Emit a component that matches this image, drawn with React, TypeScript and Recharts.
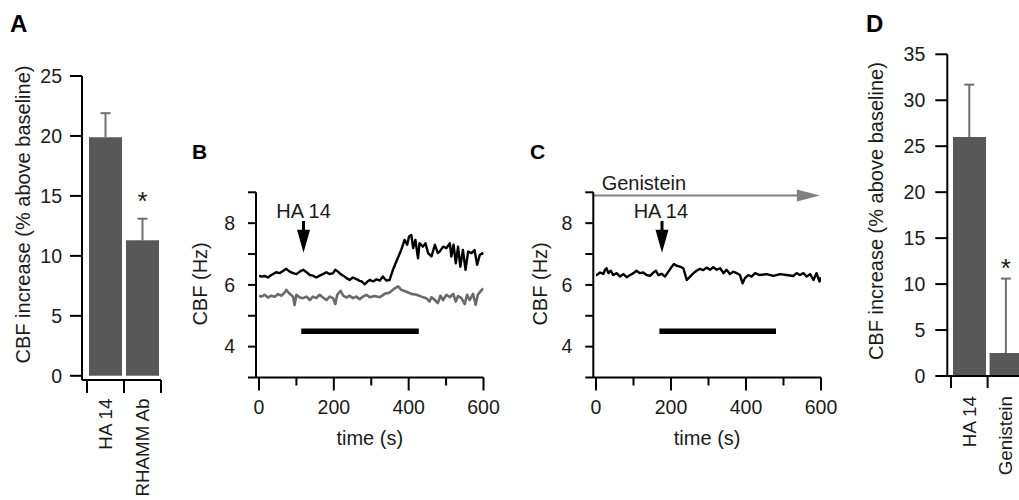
import React from 'react';
import {
  BarChart, Bar, XAxis, YAxis, LineChart, Line, ReferenceLine, ReferenceDot,
} from 'recharts';

const FONT = '"Liberation Sans", Arial, Helvetica, sans-serif';
const TXT = '#1a1a1a';
const TICK_FS = 19.5;
const CAT_FS = 18.8;
const TITLE_FS = 20;

// ---------- Panel A data ----------
const catsA = ['HA 14', 'RHAMM Ab'];
const meanA = [19.9, 11.3];
const semA = [2.0, 1.8];
const starCatA = 'RHAMM Ab';
const ticksA = [0, 5, 10, 15, 20, 25];

// ---------- Panel D data ----------
const catsD = ['HA 14', 'Genistein'];
const meanD = [26.0, 2.5];
const semD = [5.7, 8.1];
const starCatD = 'Genistein';
const ticksD = [0, 5, 10, 15, 20, 25, 30, 35];

// ---------- Panel B data (HA 14 trace, black; control trace, gray) ----------
const bHaT = [0, 6, 15, 24, 33, 46, 55, 64, 73, 82, 91, 100, 109, 118, 127, 136, 144, 153, 162, 171, 180, 189, 198, 204, 211, 218, 225, 234, 242, 251, 260, 269, 275, 283, 290,
  296, 305, 314, 323, 331, 340, 349, 358, 367, 380, 389, 396, 401, 407, 412, 418, 425, 429, 438, 445, 452, 461, 470, 478, 483, 492, 501, 510, 514, 520, 526, 532, 538, 545, 552, 559, 568, 576, 583, 590, 597, 600];
const bHaV = [6.30, 6.27, 6.29, 6.24, 6.32, 6.41, 6.38, 6.45, 6.52, 6.43, 6.38, 6.35, 6.43, 6.49, 6.41, 6.32, 6.30, 6.24, 6.30, 6.35, 6.41, 6.35, 6.38, 6.49, 6.43, 6.35, 6.30, 6.22, 6.16, 6.24, 6.19, 6.13, 6.11, 6.02, 6.11,
  6.16, 6.11, 6.18, 6.14, 6.27, 6.14, 6.16, 6.49, 6.76, 7.13, 7.46, 7.30, 7.57, 7.62, 7.19, 7.46, 6.86, 7.35, 7.24, 7.35, 7.03, 6.92, 7.30, 7.03, 7.08, 7.24, 7.19, 7.35, 6.92, 7.30, 6.70, 7.24, 6.59, 7.13, 6.49, 7.08, 7.03, 7.13, 6.65, 6.97, 7.03, 6.98];
const bCtlT = [0, 6, 15, 24, 33, 42, 51, 60, 69, 73, 78, 85, 91, 95, 100, 109, 118, 127, 136, 144, 153, 162, 171, 180, 189, 198, 204, 209, 218, 225, 234, 242, 251, 260, 269, 278, 287,
  296, 309, 323, 336, 349, 363, 372, 380, 394, 407, 421, 434, 447, 456, 461, 470, 478, 485, 492, 501, 510, 519, 526, 532, 541, 550, 556, 563, 572, 579, 585, 592, 600];
const bCtlV = [5.65, 5.62, 5.68, 5.59, 5.65, 5.62, 5.70, 5.65, 5.76, 5.84, 5.76, 5.68, 5.62, 5.35, 5.68, 5.59, 5.57, 5.62, 5.51, 5.62, 5.57, 5.68, 5.59, 5.51, 5.62, 5.57, 5.38, 5.68, 5.81, 5.65, 5.59, 5.65, 5.57, 5.62, 5.54, 5.62, 5.68,
  5.60, 5.64, 5.60, 5.71, 5.75, 5.89, 5.95, 5.84, 5.78, 5.71, 5.68, 5.62, 5.57, 5.46, 5.60, 5.51, 5.41, 5.65, 5.51, 5.68, 5.60, 5.71, 5.46, 5.64, 5.57, 5.38, 5.68, 5.51, 5.71, 5.36, 5.68, 5.79, 5.89];
const bHaPeriod = [113, 427];
const bArrowT = 119;

// ---------- Panel C data ----------
const cHaT = [0, 2, 11, 20, 24, 28, 33, 39, 46, 55, 64, 73, 82, 91, 100, 108, 117, 126, 135, 144, 153, 160, 166, 175, 184, 193, 202, 208, 215, 224, 233, 242, 251, 260, 268, 277, 286,
  295, 304, 313, 322, 331, 340, 348, 357, 366, 375, 384, 391, 397, 406, 415, 424, 437, 455, 473, 491, 508, 526, 535, 544, 553, 562, 571, 580, 588, 596, 600];
const cHaV = [6.30, 6.32, 6.40, 6.36, 6.49, 6.54, 6.38, 6.46, 6.32, 6.38, 6.27, 6.35, 6.25, 6.32, 6.38, 6.46, 6.38, 6.40, 6.32, 6.29, 6.40, 6.46, 6.32, 6.36, 6.27, 6.43, 6.59, 6.68, 6.62, 6.59, 6.54, 6.16, 6.27, 6.38, 6.46, 6.52, 6.48,
  6.56, 6.49, 6.57, 6.49, 6.54, 6.38, 6.49, 6.35, 6.43, 6.38, 6.32, 6.05, 6.22, 6.32, 6.27, 6.38, 6.32, 6.35, 6.29, 6.35, 6.32, 6.29, 6.38, 6.32, 6.38, 6.27, 6.35, 6.16, 6.38, 6.11, 6.25];
const cGenistein = [-7, 597];
const cGenLevel = 8.9;
const cHaPeriod = [169, 480];
const cArrowT = 176;

const periodLevel = 4.5;
const arrowTop = 8.07;
const arrowTip = 7.04;
const haLabelLevel = 8.17;
const genLabelPos = { t: 15, v: 9.08 };
const timeTicks = [0, 100, 200, 300, 400, 500, 600];
const cbfTicks = [3, 4, 5, 6, 7, 8, 9];

const dataA = catsA.map((c, i) => ({ cat: c, v: meanA[i] }));
const dataD = catsD.map((c, i) => ({ cat: c, v: meanD[i] }));
const bHa = bHaT.map((t, i) => ({ t, v: bHaV[i] }));
const bCtl = bCtlT.map((t, i) => ({ t, v: bCtlV[i] }));
const cHa = cHaT.map((t, i) => ({ t, v: cHaV[i] }));

const axisLine = { stroke: '#000', strokeWidth: 2 };
const textProps = { fontFamily: FONT, fill: TXT };

function catTick(p: any, bw: number, len: number, n: number, gap: number) {
  const { x, y, payload, index } = p;
  const l = x - bw / 2;
  const r = x + bw / 2;
  const ly = y + gap;
  return (
    <g>
      <line x1={l} y1={y} x2={l} y2={y + len} stroke="#000" strokeWidth={2} />
      {index === n - 1 && <line x1={r} y1={y} x2={r} y2={y + len} stroke="#000" strokeWidth={2} />}
      <text x={x} y={ly} dy="0.35em" textAnchor="end" transform={`rotate(-90 ${x} ${ly})`} fontSize={CAT_FS} {...textProps}>
        {payload.value}
      </text>
    </g>
  );
}

function yTick(p: any, len: number, gap: number, show: (v: number) => boolean) {
  const { x, y, payload } = p;
  return (
    <g>
      <line x1={x - len} y1={y} x2={x} y2={y} stroke="#000" strokeWidth={2} />
      {show(payload.value) && (
        <text x={x - gap} y={y} dy="0.35em" textAnchor="end" fontSize={TICK_FS} {...textProps}>
          {payload.value}
        </text>
      )}
    </g>
  );
}

function timeTick(p: any) {
  const { x, y, payload } = p;
  const major = payload.value % 200 === 0;
  return (
    <g>
      <line x1={x} y1={y} x2={x} y2={y + (major ? 13 : 8)} stroke="#000" strokeWidth={2} />
      {major && (
        <text x={x} y={y + 30} dy="0.35em" textAnchor="middle" fontSize={TICK_FS} {...textProps}>
          {payload.value}
        </text>
      )}
    </g>
  );
}

const yTitle = (text: string, dx: number, dy: number) => (p: any) => {
  const vb = p.viewBox || {};
  const cx = vb.x + vb.width + dx;
  const cy = vb.y + vb.height / 2 + dy;
  return (
    <text x={cx} y={cy} dy="0.35em" textAnchor="middle" transform={`rotate(-90 ${cx} ${cy})`} fontSize={TITLE_FS} {...textProps}>
      {text}
    </text>
  );
};

const xTitle = (text: string, dy: number) => (p: any) => {
  const vb = p.viewBox || {};
  const cx = vb.x + vb.width / 2;
  const cy = vb.y + dy;
  return (
    <text x={cx} y={cy} dy="0.35em" textAnchor="middle" fontSize={TITLE_FS} {...textProps}>
      {text}
    </text>
  );
};

const starShape = (lift: number) => (p: any) => (
  <text x={p.cx} y={p.cy - lift} textAnchor="middle" fontSize={26} {...textProps}>*</text>
);

const textShape = (label: string, anchor: string) => (p: any) => (
  <text x={p.cx} y={p.cy} textAnchor={anchor} fontSize={TITLE_FS} {...textProps}>{label}</text>
);

const whisker = (p: any) => {
  const { x1, y1, x2, y2 } = p;
  return (
    <g>
      <line x1={x1} y1={y1} x2={x2} y2={y2} stroke="#707070" strokeWidth={2} />
      <line x1={x2 - 5} y1={y2} x2={x2 + 5} y2={y2} stroke="#707070" strokeWidth={2} />
    </g>
  );
};

const downArrow = (p: any) => {
  const { x1, y1, x2, y2 } = p;
  const head = 23;
  const hw = 6.5;
  return (
    <g>
      <line x1={x1} y1={y1} x2={x2} y2={y2 - head + 1} stroke="#000" strokeWidth={3} />
      <polygon points={`${x2 - hw},${y2 - head} ${x2 + hw},${y2 - head} ${x2},${y2}`} fill="#000" />
    </g>
  );
};

const rightArrow = (p: any) => {
  const { x1, y1, x2, y2 } = p;
  const head = 23;
  const hh = 6;
  return (
    <g>
      <line x1={x1} y1={y1} x2={x2 - head + 1} y2={y2} stroke="#808080" strokeWidth={2} />
      <polygon points={`${x2 - head},${y2 - hh} ${x2 - head},${y2 + hh} ${x2},${y2}`} fill="#808080" />
    </g>
  );
};

function BarPanel(props: any) {
  const { data, cats, means, sems, ticks, domain, width, height, margin, pad, bw, star, starLift, titleDx, titleDy, tickLen, tickGap, catLen, catGap } = props;
  const si = cats.indexOf(star);
  return (
    <BarChart width={width} height={height} data={data} margin={margin}>
      <XAxis
        dataKey="cat"
        type="category"
        height={60}
        padding={{ left: pad, right: 0 }}
        interval={0}
        tickLine={false}
        tickSize={0}
        tickMargin={0}
        axisLine={axisLine}
        tick={(p: any) => catTick(p, bw, catLen, cats.length, catGap)}
      />
      <YAxis
        type="number"
        domain={domain}
        ticks={ticks}
        interval={0}
        width={60}
        allowDataOverflow
        tickLine={false}
        tickSize={0}
        tickMargin={0}
        axisLine={axisLine}
        tick={(p: any) => yTick(p, tickLen, tickGap, () => true)}
        label={yTitle('CBF increase (% above baseline)', titleDx, titleDy)}
      />
      <Bar dataKey="v" fill="#585858" barSize={33} isAnimationActive={false} />
      {cats.map((c: string, i: number) => (
        <ReferenceLine
          key={c}
          segment={[{ x: c, y: means[i] }, { x: c, y: means[i] + sems[i] }]}
          ifOverflow="visible"
          shape={whisker}
        />
      ))}
      <ReferenceDot x={star} y={means[si] + sems[si]} r={0} ifOverflow="visible" shape={starShape(starLift)} />
    </BarChart>
  );
}

function TracePanel(props: any) {
  const { margin, pad, titleDx, children } = props;
  return (
    <LineChart width={360} height={340} margin={margin}>
      <XAxis
        type="number"
        dataKey="t"
        domain={[0, 600]}
        ticks={timeTicks}
        interval={0}
        allowDataOverflow
        padding={{ left: pad, right: 0 }}
        height={60}
        tickLine={false}
        tickSize={0}
        tickMargin={0}
        axisLine={axisLine}
        tick={timeTick}
        label={xTitle('time (s)', 60)}
      />
      <YAxis
        type="number"
        domain={[3, 9]}
        ticks={cbfTicks}
        interval={0}
        allowDataOverflow
        width={60}
        tickLine={false}
        tickSize={0}
        tickMargin={0}
        axisLine={axisLine}
        tick={(p: any) => yTick(p, 8, 21, (v) => v % 2 === 0)}
        label={yTitle('CBF (Hz)', titleDx, -1)}
      />
      {children}
    </LineChart>
  );
}

export default function App() {
  const bwA = (79 - 5) / catsA.length;
  const bwD = (76.9 - 3.7) / catsD.length;
  return (
    <div style={{ position: 'absolute', left: 0, top: 0, width: 1019, height: 500, overflow: 'hidden', background: '#fff' }}>
      <div style={{ position: 'absolute', left: 0, top: 0 }}>
        <BarPanel
          data={dataA} cats={catsA} means={meanA} sems={semA} ticks={ticksA} domain={[-0.35, 25]} width={200} height={500}
          margin={{ top: 76, right: 39, bottom: 60, left: 22 }} pad={5} bw={bwA}
          star={starCatA} starLift={9}
          titleDx={-59.5} titleDy={-13.5} tickLen={12} tickGap={20} catLen={13} catGap={18.5}
        />
      </div>
      <div style={{ position: 'absolute', left: 840, top: 0 }}>
        <BarPanel
          data={dataD} cats={catsD} means={meanD} sems={semD} ticks={ticksD} domain={[0, 35]} width={260} height={500}
          margin={{ top: 54.3, right: 75.8, bottom: 64, left: 47.3 }} pad={3.7} bw={bwD}
          star={starCatD} starLift={1.6}
          titleDx={-70.8} titleDy={-4} tickLen={12} tickGap={22} catLen={12} catGap={20}
        />
      </div>
      <div style={{ position: 'absolute', left: 150, top: 130 }}>
        <TracePanel margin={{ top: 62.3, right: 26.5, bottom: 32.5, left: 46 }} pad={3} titleDx={-56}>
          <Line data={bCtl} dataKey="v" stroke="#6a6a6a" strokeWidth={2.6} dot={false} isAnimationActive={false} strokeLinejoin="round" />
          <Line data={bHa} dataKey="v" stroke="#000" strokeWidth={2.4} dot={false} isAnimationActive={false} strokeLinejoin="round" />
          <ReferenceLine segment={[{ x: bHaPeriod[0], y: periodLevel }, { x: bHaPeriod[1], y: periodLevel }]} stroke="#000" strokeWidth={5.5} ifOverflow="visible" />
          <ReferenceLine segment={[{ x: bArrowT, y: arrowTop }, { x: bArrowT, y: arrowTip }]} ifOverflow="visible" shape={downArrow} />
          <ReferenceDot x={bArrowT} y={haLabelLevel} r={0} ifOverflow="visible" shape={textShape('HA 14', 'middle')} />
        </TracePanel>
      </div>
      <div style={{ position: 'absolute', left: 490, top: 130 }}>
        <TracePanel margin={{ top: 62.3, right: 29, bottom: 32.5, left: 43.3 }} pad={2.7} titleDx={-52.8}>
          <Line data={cHa} dataKey="v" stroke="#000" strokeWidth={2.4} dot={false} isAnimationActive={false} strokeLinejoin="round" />
          <ReferenceLine segment={[{ x: cHaPeriod[0], y: periodLevel }, { x: cHaPeriod[1], y: periodLevel }]} stroke="#000" strokeWidth={5.5} ifOverflow="visible" />
          <ReferenceLine segment={[{ x: cGenistein[0], y: cGenLevel }, { x: cGenistein[1], y: cGenLevel }]} ifOverflow="visible" shape={rightArrow} />
          <ReferenceDot x={genLabelPos.t} y={genLabelPos.v} r={0} ifOverflow="visible" shape={textShape('Genistein', 'start')} />
          <ReferenceLine segment={[{ x: cArrowT, y: arrowTop }, { x: cArrowT, y: arrowTip }]} ifOverflow="visible" shape={downArrow} />
          <ReferenceDot x={cArrowT - 3} y={haLabelLevel} r={0} ifOverflow="visible" shape={textShape('HA 14', 'middle')} />
        </TracePanel>
      </div>
      <svg width={1019} height={500} style={{ position: 'absolute', left: 0, top: 0, pointerEvents: 'none' }}>
        <text x={10} y={31.5} fontSize={24} fontWeight="bold" {...textProps} fill="#000">A</text>
        <text x={192} y={158.5} fontSize={21} fontWeight="bold" {...textProps} fill="#000">B</text>
        <text x={530} y={158.5} fontSize={21} fontWeight="bold" {...textProps} fill="#000">C</text>
        <text x={866} y={32} fontSize={24} fontWeight="bold" {...textProps} fill="#000">D</text>
      </svg>
    </div>
  );
}
